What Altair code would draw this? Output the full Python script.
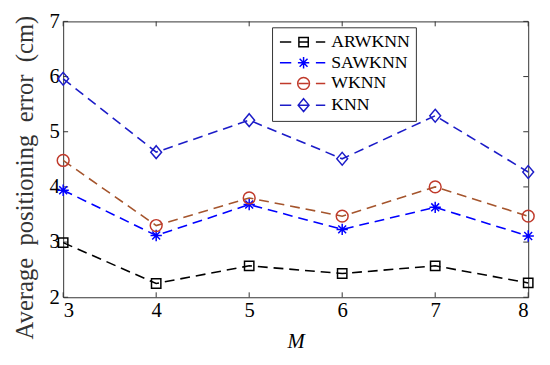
import altair as alt
import pandas as pd

M_values = [3, 4, 5, 6, 7, 8]
methods = ["ARWKNN", "SAWKNN", "WKNN", "KNN"]
arwknn = [2.99, 2.25, 2.57, 2.43, 2.57, 2.26]
sawknn = [3.94, 3.12, 3.68, 3.23, 3.63, 3.11]
wknn = [4.48, 3.30, 3.80, 3.47, 4.00, 3.47]
knn = [5.96, 4.63, 5.21, 4.51, 5.29, 4.27]
x_ticks = [3, 4, 5, 6, 7, 8]
y_ticks = [2, 3, 4, 5, 6, 7]

line_colors = ["#000000", "#0000ff", "#a5552d", "#1c1cc8"]
marker_colors = ["#000000", "#0000ff", "#c03a2b", "#1c1cc8"]

marker_paths = [
    "M-0.95,-0.95H0.95V0.95H-0.95Z",
    "M-1.15,0H1.15M0,-1.15V1.15M-0.8,-0.8L0.8,0.8M-0.8,0.8L0.8,-0.8",
    "M1.2,0A1.2,1.2,0,1,1,-1.2,0A1.2,1.2,0,1,1,1.2,0Z",
    "M0,-1.3L1.1,0L0,1.3L-1.1,0Z",
]
dash_path = "M-4.8,0H-2.5M-1,0H1M2.5,0H4.4"
legend_paths = [dash_path + p for p in marker_paths]

series = [arwknn, sawknn, wknn, knn]
rows = []
for name, vals in zip(methods, series):
    for m, v in zip(M_values, vals):
        rows.append({"M": m, "error": v, "method": name})
df = pd.DataFrame(rows)

xt = pd.DataFrame({"M": x_ticks})
yt = pd.DataFrame({"error": y_ticks})

FONT = "Liberation Serif"
SP = " \u00a0"

x_enc = alt.X("M:Q", scale=alt.Scale(domain=[3, 8], nice=False, zero=False),
              axis=alt.Axis(values=x_ticks, title="M", ticks=False, domain=False, grid=False,
                            labelFont=FONT, labelFontSize=21, labelColor="#000000", labelPadding=3,
                            titleFont=FONT, titleFontSize=21, titleFontStyle="italic",
                            titleFontWeight="normal", titleColor="#000000", titlePadding=10,
                            format="d"))
y_enc = alt.Y("error:Q", scale=alt.Scale(domain=[2, 7], nice=False, zero=False),
              axis=alt.Axis(values=y_ticks, title="Average" + SP + "positioning" + SP + "error" + SP + "(cm)",
                            ticks=False, domain=False, grid=False,
                            labelFont=FONT, labelFontSize=21, labelColor="#000000", labelPadding=4,
                            titleFont=FONT, titleFontSize=25, titleFontWeight="normal",
                            titleColor="#333333", titleX=-31, titleY=158, titleAngle=270,
                            titleAlign="center", titleBaseline="alphabetic", format="d"))

lines = alt.Chart(df).mark_line(strokeDash=[10, 6], strokeWidth=1.6).encode(
    x=x_enc, y=y_enc,
    color=alt.Color("method:N", scale=alt.Scale(domain=methods, range=line_colors), legend=None),
    detail="method:N",
)

points = alt.Chart(df).mark_point(filled=False, size=100, strokeWidth=1.5, opacity=1).encode(
    x=x_enc, y=y_enc,
    stroke=alt.Stroke("method:N", scale=alt.Scale(domain=methods, range=marker_colors), legend=None),
    shape=alt.Shape("method:N", scale=alt.Scale(domain=methods, range=marker_paths), legend=None),
)

legend_layer = alt.Chart(df).transform_filter("false").mark_point(
    filled=False, size=100, strokeWidth=1.5, opacity=1).encode(
    x=x_enc, y=y_enc,
    stroke=alt.Stroke("method:N", scale=alt.Scale(domain=methods, range=marker_colors),
                      legend=alt.Legend(title=None)),
    shape=alt.Shape("method:N", scale=alt.Scale(domain=methods, range=legend_paths),
                    legend=alt.Legend(title=None)),
)

tick_x_bottom = alt.Chart(xt).mark_rule(color="#333333", strokeWidth=1).encode(
    x=x_enc, y=alt.value(280), y2=alt.value(275))
tick_x_top = alt.Chart(xt).mark_rule(color="#333333", strokeWidth=1).encode(
    x=x_enc, y=alt.value(0), y2=alt.value(5))
tick_y_left = alt.Chart(yt).mark_rule(color="#333333", strokeWidth=1).encode(
    y=y_enc, x=alt.value(0), x2=alt.value(5))
tick_y_right = alt.Chart(yt).mark_rule(color="#333333", strokeWidth=1).encode(
    y=y_enc, x=alt.value(472), x2=alt.value(467))

chart = alt.layer(tick_x_bottom, tick_x_top, tick_y_left, tick_y_right, lines, points,
                  legend_layer).resolve_scale(
    shape="independent", stroke="independent"
).properties(
    width=472, height=280,
    autosize=alt.AutoSizeParams(type="none"),
    padding={"left": 56, "top": 11, "right": 14, "bottom": 56},
).configure_view(stroke="#333333", strokeWidth=1).configure_axis(
    labelFont=FONT, titleFont=FONT
).configure_legend(
    orient="none", legendX=212, legendY=6,
    strokeColor="#333333", fillColor="#ffffff", padding=6,
    labelFont=FONT, labelFontSize=18, labelColor="#000000",
    symbolSize=100, symbolStrokeWidth=1.5, symbolOffset=17, labelOffset=19,
    rowPadding=3,
)

chart.save("out.html", embed_options={"renderer": "svg", "actions": False})
